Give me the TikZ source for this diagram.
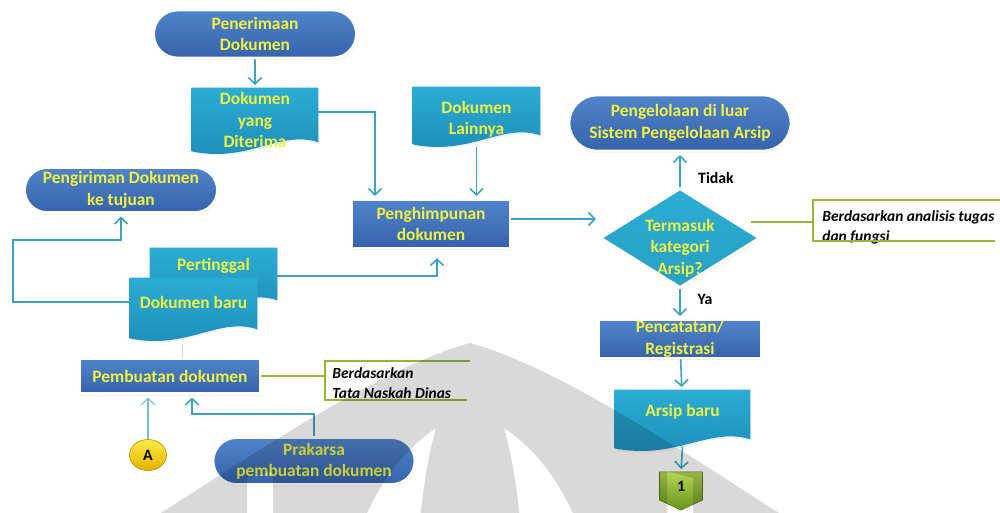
\documentclass[tikz,border=0pt]{standalone}
\usepackage{fontspec}
\setmainfont{Carlito}
\usetikzlibrary{shapes.misc,shapes.geometric,shapes.symbols,arrows.meta,calc,shadows}
\pgfdeclarelayer{background}
\pgfdeclarelayer{front}
\pgfsetlayers{background,main,front}

\definecolor{bluetop}{RGB}{80,132,202}
\definecolor{bluebot}{RGB}{54,98,172}
\definecolor{tealtop}{RGB}{44,172,212}
\definecolor{tealbot}{RGB}{28,140,184}
\definecolor{diamondteal}{RGB}{40,160,196}
\definecolor{txtyellow}{RGB}{238,244,64}
\definecolor{linkteal}{RGB}{58,164,192}
\definecolor{linklight}{RGB}{120,188,210}
\definecolor{notegreen}{RGB}{150,182,58}
\definecolor{greentop}{RGB}{178,212,84}
\definecolor{greenbot}{RGB}{104,148,30}
\definecolor{yelltop}{RGB}{255,236,70}
\definecolor{yellbot}{RGB}{226,178,0}
\definecolor{markgrey}{RGB}{217,217,217}

% wavy-bottomed document outline around a node; #2 = extra depth below the node
\newcommand\docshape[2]{%
  \path[docfill] (#1.north west) -- (#1.north east)
    -- ($(#1.south east)+(0,#2-13)$)
    .. controls ($(#1.south west)!0.7!(#1.south east)+(0,#2-26)$)
            and ($(#1.south west)!0.45!(#1.south east)+(0,#2+8)$)
    .. ($(#1.south west)+(0,#2-4)$) -- cycle;}

\tikzset{
  x=0.02cm, y=-0.02cm,
  boxsize/.style 2 args={minimum width=#1*0.02cm, minimum height=#2*0.02cm},
  flowtext/.style={text=txtyellow, font=\fontsize{9.9}{12.2}\selectfont\bfseries, align=center},
  frame/.style={draw=white, line width=1.6pt,
    drop shadow={shadow xshift=0.5pt, shadow yshift=-1.2pt, opacity=0.12}},
  terminal/.style={rounded rectangle, flowtext, frame, top color=bluetop, bottom color=bluebot, inner sep=0pt},
  process/.style={rectangle, flowtext, frame, top color=bluetop, bottom color=bluebot, inner sep=0pt},
  decision/.style={diamond, draw=white, line width=1.6pt, top color=tealtop, bottom color=diamondteal,
    drop shadow={shadow xshift=0.5pt, shadow yshift=-1.2pt, opacity=0.12}, inner sep=0pt},
  docnode/.style={rectangle, flowtext, inner sep=0pt},
  docfill/.style={top color=tealtop, bottom color=tealbot,
    drop shadow={shadow xshift=0.5pt, shadow yshift=-1pt, opacity=0.1}},
  offpage/.style={signal, signal to=south, signal from=nowhere, signal pointer angle=130,
    top color=greentop, bottom color=greenbot, draw=greenbot!80!black, line width=0.3pt,
    font=\fontsize{9}{10}\selectfont\bfseries, text=black, inner sep=0pt},
  connector/.style={ellipse, top color=yelltop, bottom color=yellbot, draw=yellbot!85!black,
    line width=0.4pt, font=\fontsize{9}{10}\selectfont\bfseries, text=black, inner sep=0pt},
  link/.style={draw=linkteal, line width=0.9pt, -{Straight Barb[length=3.6pt,width=7.5pt]}, shorten >=1.5pt},
  thinlink/.style={draw=linklight, line width=0.6pt, -{Straight Barb[length=3.6pt,width=7.5pt]}, shorten >=1.5pt},
  faint/.style={draw=linklight!50, line width=0.5pt},
  leader/.style={draw=notegreen, line width=0.9pt},
  notetext/.style={font=\fontsize{8.8}{11.3}\selectfont\bfseries\itshape, text=black, align=left, inner sep=0pt},
  answer/.style={font=\fontsize{9}{10}\selectfont\bfseries, text=black, inner sep=0pt},
}

\begin{document}
\begin{tikzpicture}
\useasboundingbox (0,0) rectangle (1000,512);

% ---------- nodes ----------
\node[terminal, boxsize={203}{48}] (pen) at (255,34) {Penerimaan\\Dokumen};
\node[docnode, boxsize={126}{64}] (dyd) at (255,120) {Dokumen\\yang\\Diterima};
\node[docnode, boxsize={127}{64}] (dl) at (476.5,119) {Dokumen\\Lainnya};
\node[process, boxsize={158}{48}] (ph) at (431,224) {Penghimpunan\\dokumen};

\node[terminal, boxsize={222}{56}] (pgl) at (680,123) {Pengelolaan di luar\\Sistem Pengelolaan Arsip};
\node[decision, boxsize={160}{100},
      label={[flowtext, yshift=-0.2cm]center:Termasuk\\kategori\\Arsip?}] (dia) at (680,238) {};
\node[process, boxsize={163}{38}] (pc) at (680,339) {Pencatatan/\\Registrasi};
\node[docnode, boxsize={135}{44}] (ab) at (682.5,412) {Arsip baru};
\node[offpage, boxsize={43}{30}] (one) at (681,486) {1};

\node[terminal, boxsize={193}{45}] (pg) at (121,190) {Pengiriman Dokumen\\ke tujuan};
\node[docnode, boxsize={127}{36}] (pt) at (213.5,266) {Pertinggal};
\node[docnode, boxsize={127}{48}] (db) at (193.5,302) {Dokumen baru};
\node[process, boxsize={180}{35}] (pb) at (170,376) {Pembuatan dokumen};
\node[connector, boxsize={37}{31}] (ca) at (148,455) {A};
\node[terminal, boxsize={202}{47}] (pk) at (314,461) {Prakarsa\\pembuatan dokumen};

\node[answer] (tidak) at (716,178) {Tidak};
\node[answer] (ya) at (705,299) {Ya};

% ---------- document shapes behind their labels ----------
\begin{pgfonlayer}{background}
  \fill[white] (0,0) rectangle (1000,512);
  \docshape{dyd}{3}
  \docshape{dl}{-3}
  \docshape{pt}{29}
  \docshape{db}{16}
  \docshape{ab}{18}
\end{pgfonlayer}

% ---------- connectors ----------
\draw[link] (pen) -- (dyd);
\draw[link] ($(dyd.east)+(0,-8)$) -| (375,0 |- ph.north);
\draw[link] ($(dl.south)+(0,-4)$) -- (dl.south |- ph.north);
\draw[link] (ph.east |- 0,219) -- (dia.west |- 0,219);
\draw[link] (dia.north) -- (pgl.south);
\draw[link] (dia.south) -- (pc.north);
\draw[link] (pc) -- (ab);
\draw[link] ($(ab.south)+(0,12)$) -- (one.north);

\draw[link] (db.west) -- (13,0 |- db.west) -- (13,240) -| (pg.south);
\draw[link, shorten >=5pt] ($(pt.east)+(0,10)$) -| (437,0 |- ph.south);
\draw[faint] ($(pb.north)+(12,0)$) -- ++(0,-13);
\draw[thinlink] (ca) -- (ca |- pb.south);
\draw[link] (pk.north) -- ++(0,-22) -| (192,0 |- pb.south);

% ---------- notes ----------
\node[notetext, anchor=west] (n1) at (822,227) {Berdasarkan analisis tugas\\dan fungsi};
\coordinate (n1in) at (813,222);
\draw[leader] ($(dia.east)+(-10,-16)$) -- (n1in);
\draw[leader] (1000,200) -- (813,200) -- (813,241) -- (995,241);

\node[notetext, anchor=west] (n2) at (332,383.5) {Berdasarkan\\Tata Naskah Dinas};
\draw[leader] (pb.east) -- (325,0 |- pb.east);
\draw[leader] (470,361) -- (325,361) -- (325,400) -- (467,400);

% ---------- watermark emblem ----------
\begin{pgfonlayer}{front}
  \fill[markgrey, blend mode=multiply, even odd rule]
    (150,520) .. controls (260,450) and (380,368) .. (470,343)
              .. controls (560,368) and (680,450) .. (790,520) -- cycle
    (504,428) .. controls (513,460) and (517,490) .. (520,520) -- (576,520)
              .. controls (558,478) and (534,448) .. (504,428) -- cycle
    (436,428) .. controls (427,460) and (423,490) .. (420,520) -- (364,520)
              .. controls (382,478) and (406,448) .. (436,428) -- cycle
    (247,478) -- (273,471) -- (273,520) -- (247,520) -- cycle
    (667,471) -- (693,478) -- (693,520) -- (667,520) -- cycle;
\end{pgfonlayer}
\end{tikzpicture}
\end{document}
